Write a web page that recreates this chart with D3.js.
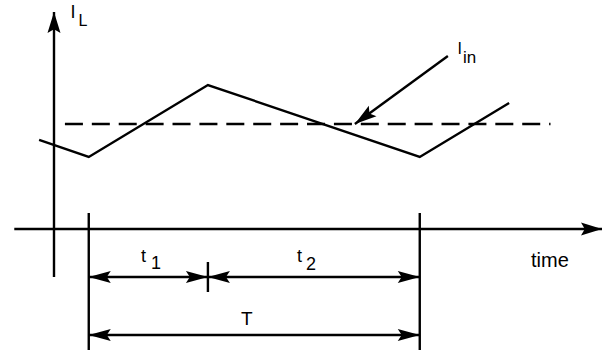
<!DOCTYPE html>
<html>
<head>
<meta charset="utf-8">
<script src="https://cdn.jsdelivr.net/npm/d3@7"></script>
<style>
  html, body { margin: 0; padding: 0; background: #fff; }
  text { font-family: "Liberation Sans", Arial, sans-serif; fill: #000; }
</style>
</head>
<body>
<div id="chart"></div>
<script>
// inductor current waveform (time units: T = 10)
var waveT = [-0.45, 1.05, 4.65, 11.05, 13.75],
	waveI = [4.95, 4, 8, 4, 7],
	iin = 5.83,
	iinSpan = [0.33, 15.0],
	markT = [1.05, 4.65, 11.05],
	dimLabels = [{main: 't', sub: '1'}, {main: 't', sub: '2'}, {main: 'T', sub: ''}]

var width = 608,
	height = 352

var x = d3.scaleLinear().domain([0, 10]).range([54, 385]),
	y = d3.scaleLinear().domain([0, 8]).range([229, 85])

var svg = d3.select('#chart').append('svg')
	.attr('width', width)
	.attr('height', height)

var defs = svg.append('defs')

function arrowMarker(id, len, half) {
	defs.append('marker')
		.attr('id', id)
		.attr('markerUnits', 'userSpaceOnUse')
		.attr('viewBox', (-len - 1) + ' ' + (-half - 1) + ' ' + (len + 2) + ' ' + (2 * half + 2))
		.attr('refX', 0)
		.attr('refY', 0)
		.attr('markerWidth', len + 2)
		.attr('markerHeight', 2 * half + 2)
		.attr('orient', 'auto-start-reverse')
		.append('path')
		.attr('d', 'M0,0 L' + (-len) + ',' + (-half) + ' L' + (-len * 0.82) + ',0 L' + (-len) + ',' + half + ' Z')
		.attr('fill', '#000')
}
arrowMarker('axisArrow', 21, 6.5)
arrowMarker('dimArrow', 22, 6)
arrowMarker('noteArrow', 22, 6.5)

var ink = {stroke: '#000', 'stroke-width': 2.4, fill: 'none'}
function styled(sel) {
	Object.keys(ink).forEach(function(k) { sel.attr(k, ink[k]) })
	return sel
}

// axes
styled(svg.append('line'))
	.attr('x1', x(0)).attr('y1', 277)
	.attr('x2', x(0)).attr('y2', 12)
	.attr('marker-end', 'url(#axisArrow)')

styled(svg.append('line'))
	.attr('x1', x(-1.2)).attr('y1', y(0))
	.attr('x2', 602).attr('y2', y(0))
	.attr('marker-end', 'url(#axisArrow)')

// dashed average input current
styled(svg.append('line'))
	.attr('x1', x(iinSpan[0])).attr('y1', y(iin))
	.attr('x2', x(iinSpan[1])).attr('y2', y(iin))
	.attr('stroke-dasharray', '18,8.9')

// triangle waveform
var line = d3.line()
	.x(function(d, i) { return x(waveT[i]) })
	.y(function(d) { return y(d) })

styled(svg.append('path'))
	.attr('d', line(waveI))
	.attr('stroke-linejoin', 'miter')

// I_in pointer
var tipX = x(9.09), tipY = y(iin)
styled(svg.append('line'))
	.attr('x1', tipX + 93).attr('y1', tipY - 68)
	.attr('x2', tipX).attr('y2', tipY)
	.attr('marker-end', 'url(#noteArrow)')

// period boundary ticks
svg.selectAll('.bound')
	.data([markT[0], markT[2]])
	.enter().append('line')
	.attr('class', 'bound')
	.attr('x1', function(d) { return x(d) }).attr('y1', 213)
	.attr('x2', function(d) { return x(d) }).attr('y2', 350)
	.attr('stroke', '#000').attr('stroke-width', 2.4)

styled(svg.append('line'))
	.attr('x1', x(markT[1])).attr('y1', 262)
	.attr('x2', x(markT[1])).attr('y2', 292)

// dimension lines
var dims = [
	{a: markT[0], b: markT[1], row: 277},
	{a: markT[1], b: markT[2], row: 277},
	{a: markT[0], b: markT[2], row: 335}
]
svg.selectAll('.dim')
	.data(dims)
	.enter().append('line')
	.attr('class', 'dim')
	.attr('x1', function(d) { return x(d.a) }).attr('y1', function(d) { return d.row })
	.attr('x2', function(d) { return x(d.b) }).attr('y2', function(d) { return d.row })
	.attr('stroke', '#000').attr('stroke-width', 2.4)
	.attr('marker-start', 'url(#dimArrow)')
	.attr('marker-end', 'url(#dimArrow)')

// labels
var labelPos = [
	{x: 141, y: 262, sx: 151, sy: 269, size: 18},
	{x: 297, y: 262, sx: 306, sy: 270, size: 18},
	{x: 241, y: 325, sx: 0, sy: 0, size: 19}
]
dimLabels.forEach(function(l, i) {
	var p = labelPos[i]
	svg.append('text').attr('x', p.x).attr('y', p.y)
		.style('font-size', p.size + 'px').text(l.main)
	if (l.sub) {
		svg.append('text').attr('x', p.sx).attr('y', p.sy)
			.style('font-size', p.size + 'px').text(l.sub)
	}
})

svg.append('text').attr('x', 70.5).attr('y', 18).style('font-size', '18px').text('I')
svg.append('text').attr('x', 78.5).attr('y', 26).style('font-size', '16px').text('L')

svg.append('text').attr('x', 457.5).attr('y', 54).style('font-size', '16px').text('I')
svg.append('text').attr('x', 463).attr('y', 63).style('font-size', '17px').text('in')

svg.append('text').attr('x', 531).attr('y', 267).style('font-size', '20px').text('time')
</script>
</body>
</html>
